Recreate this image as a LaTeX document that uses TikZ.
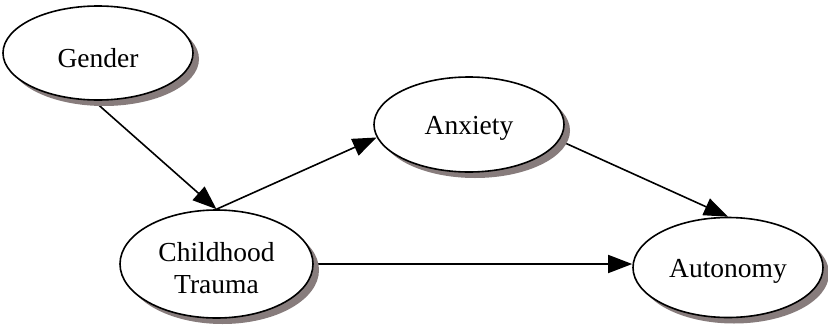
\documentclass[tikz,border=0pt]{standalone}
\usepackage{fontspec}
\setmainfont{Liberation Serif}
\usetikzlibrary{shapes.geometric,arrows.meta,shadows,backgrounds}
\definecolor{shadowgray}{RGB}{135,124,124}
% lower a label inside its ellipse without changing the box it reports
\newcommand\lowertext[2][4pt]{\raisebox{-#1}[\height][\depth]{#2}}
\begin{document}
\begin{tikzpicture}[x=1pt,y=-1pt,
  var/.style={ellipse, draw=black, line width=1.6pt, fill=white, inner sep=0pt,
    font=\fontsize{27.5}{32}\selectfont, align=center,
    drop shadow={shadow xshift=6pt, shadow yshift=-6pt, fill=shadowgray, opacity=1}},
  link/.style={draw=black, line width=1.6pt, -{Triangle[length=24pt,width=18pt]}}]
\useasboundingbox (0,0) rectangle (828,327);

% latent variables
\node[var, minimum width=190pt, minimum height=94pt]  (g) at (98,53)    {\lowertext[5pt]{Gender}};
\node[var, minimum width=190pt, minimum height=95pt]  (a) at (469,124.5) {\lowertext{Anxiety}};
\node[var, minimum width=193pt, minimum height=108pt] (c) at (216.5,264) {\lowertext{Childhood}\\\lowertext{Trauma}};
\node[var, minimum width=190pt, minimum height=100pt] (u) at (728,267.5) {\lowertext{Autonomy}};

% structural paths, kept under the shadows
\begin{scope}[on background layer]
  \draw[link] (g.-95) -- (c.north);
  \draw[link] (c.north) -- (a.188);
  \draw[link] (a.-10) -- (u.north);
  \draw[link] (c.east) -- (c.east -| u.west);
\end{scope}
\end{tikzpicture}
\end{document}
